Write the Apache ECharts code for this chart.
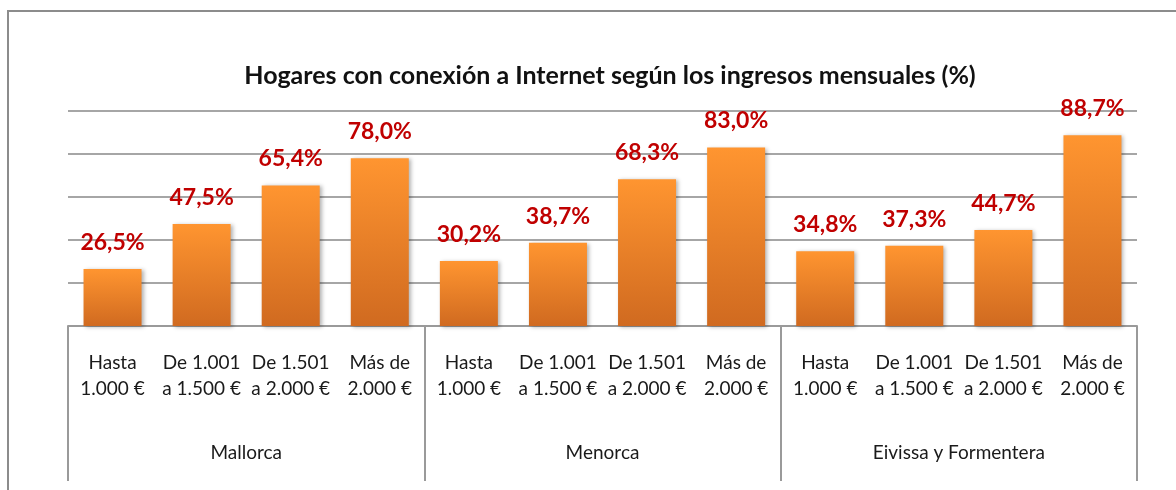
<!DOCTYPE html>
<html>
<head>
<meta charset="utf-8">
<script src="https://cdn.jsdelivr.net/npm/echarts@6/dist/echarts.min.js"></script>
<style>
  html, body { margin: 0; padding: 0; background: #fff; }
  #chart { width: 1176px; height: 490px; }
</style>
</head>
<body>
<div id="chart"></div>
<script>
// Data
const categories = [
  'Hasta\n1.000 €', 'De 1.001\na 1.500 €', 'De 1.501\na 2.000 €', 'Más de\n2.000 €',
  'Hasta\n1.000 €', 'De 1.001\na 1.500 €', 'De 1.501\na 2.000 €', 'Más de\n2.000 €',
  'Hasta\n1.000 €', 'De 1.001\na 1.500 €', 'De 1.501\na 2.000 €', 'Más de\n2.000 €'
]
const groups = ['Mallorca', 'Menorca', 'Eivissa y Formentera']
const values = [26.5, 47.5, 65.4, 78.0, 30.2, 38.7, 68.3, 83.0, 34.8, 37.3, 44.7, 88.7]

const fontFamily = 'Lato, "Open Sans", sans-serif'
const lineGray = '#9a9a9a'

const chart = echarts.init(document.getElementById('chart'))

chart.setOption({
  backgroundColor: '#fff',
  animation: false,
  title: {
    text: 'Hogares con conexión a Internet según los ingresos mensuales (%)',
    left: 605,
    textAlign: 'center',
    top: 58,
    textStyle: {
      fontFamily,
      fontSize: 25,
      fontWeight: 'bold',
      color: '#111'
    }
  },
  grid: {
    left: 68,
    right: 39,
    top: 111,
    bottom: 164
  },
  xAxis: [
    {
      type: 'category',
      data: categories,
      position: 'bottom',
      axisTick: { show: false },
      axisLine: { lineStyle: { color: lineGray, width: 2 } },
      axisLabel: {
        interval: 0,
        margin: 24,
        fontFamily,
        fontSize: 19,
        lineHeight: 26,
        color: '#1a1a1a'
      }
    },
    {
      type: 'category',
      data: groups,
      position: 'bottom',
      axisLine: { show: false },
      axisTick: {
        show: true,
        length: 155,
        lineStyle: { color: lineGray, width: 2 }
      },
      axisLabel: {
        interval: 0,
        margin: 117,
        fontFamily,
        fontSize: 19,
        color: '#1a1a1a'
      }
    }
  ],
  yAxis: {
    type: 'value',
    min: 0,
    max: 100,
    interval: 20,
    axisLabel: { show: false },
    axisTick: { show: false },
    axisLine: { show: false },
    splitLine: { lineStyle: { color: '#a6a6a6', width: 2 } }
  },
  series: [
    {
      type: 'bar',
      xAxisIndex: 0,
      data: values,
      barWidth: 58,
      itemStyle: {
        color: new echarts.graphic.LinearGradient(0, 0, 0, 1, [
          { offset: 0, color: '#FF9530' },
          { offset: 1, color: '#D06A20' }
        ]),
        shadowBlur: 4,
        shadowOffsetX: 2,
        shadowOffsetY: 1,
        shadowColor: 'rgba(0,0,0,0.3)'
      },
      label: {
        show: true,
        position: 'top',
        distance: 15,
        formatter: (p) => p.value.toFixed(1).replace('.', ',') + '%',
        fontFamily,
        fontSize: 23,
        fontWeight: 'bold',
        color: '#C00000'
      }
    }
  ],
  graphic: [
    {
      type: 'polyline',
      shape: { points: [[8, 490], [8, 11], [1176, 11]] },
      style: { stroke: '#8c8c8c', lineWidth: 2, fill: null }
    }
  ]
})
</script>
</body>
</html>
